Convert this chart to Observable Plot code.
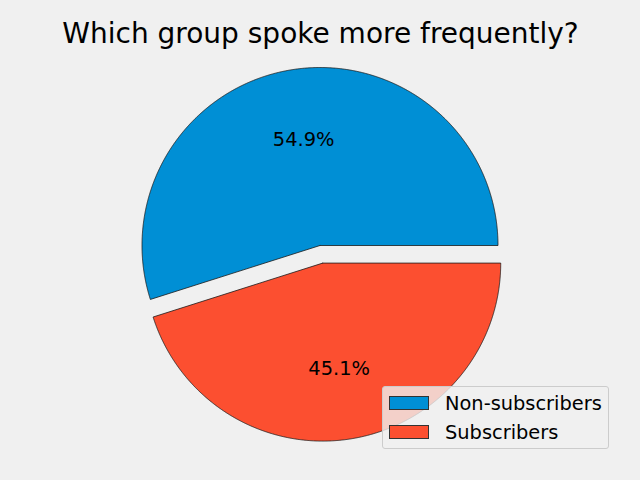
<!DOCTYPE html>
<html>
<head>
<meta charset="utf-8">
<script src="https://cdn.jsdelivr.net/npm/d3@7"></script>
<script src="https://cdn.jsdelivr.net/npm/@observablehq/plot@0.6"></script>
<style>
  html, body { margin: 0; padding: 0; background: #f0f0f0; }
  #wrap { position: relative; width: 640px; height: 480px; font-family: "DejaVu Sans", sans-serif; }
  #legend { position: absolute; left: 382px; top: 386px; width: 225px; height: 61px;
    background: rgba(240,240,240,0.8); border: 1px solid #cccccc; border-radius: 3px; }
  .item { position: absolute; left: 6px; height: 20px; display: flex; align-items: center; font-size: 19.4px; color: #000; white-space: nowrap; }
  .sw { width: 38px; height: 12px; border: 1px solid #333; margin-right: 16px; box-sizing: content-box; }
</style>
</head>
<body>
<div id="wrap"></div>
<script>
const title = "Which group spoke more frequently?";
const groups = ["Non-subscribers", "Subscribers"];
const shares = [54.9, 45.1];
const explode = [0, 0.1];
const colors = ["#008fd5", "#fc4f30"];

const total = d3.sum(shares);
let cum = 0;
const wedgePts = [];
const labels = [];
groups.forEach((g, i) => {
  const a0 = cum / total * 2 * Math.PI;
  cum += shares[i];
  const a1 = cum / total * 2 * Math.PI;
  const mid = (a0 + a1) / 2;
  const ox = explode[i] * Math.cos(mid), oy = explode[i] * Math.sin(mid);
  wedgePts.push({g, x: ox, y: oy});
  const n = Math.ceil((a1 - a0) / (Math.PI / 720));
  for (let k = 0; k <= n; k++) {
    const a = a0 + (a1 - a0) * k / n;
    wedgePts.push({g, x: ox + Math.cos(a), y: oy + Math.sin(a)});
  }
  wedgePts.push({g, x: ox, y: oy});
  labels.push({g, x: ox + 0.6 * Math.cos(mid), y: oy + 0.6 * Math.sin(mid), t: shares[i].toFixed(1) + "%"});
});

const R = 178;
const CX = 319.5;
const plot = Plot.plot({
  width: 640, height: 480,
  margin: 0,
  style: { background: "#f0f0f0", fontFamily: "DejaVu Sans, sans-serif" },
  x: { domain: [-CX / R, (640 - CX) / R], range: [0, 640], axis: null },
  y: { domain: [-235 / R, 245 / R], range: [480, 0], axis: null },
  color: { domain: groups, range: colors },
  marks: [
    Plot.line(wedgePts, { x: "x", y: "y", z: "g", fill: "g", stroke: "#1a1a1a", strokeWidth: 0.8, curve: "linear" }),
    Plot.text(labels, { x: "x", y: "y", text: "t", fontSize: 19.4, fill: "#000", lineAnchor: "middle" }),
    Plot.text([title], { frameAnchor: "top", dy: 34, text: d => d, fontSize: 28, fill: "#000", lineAnchor: "middle" })
  ]
});
const wrap = document.getElementById("wrap");
wrap.appendChild(plot);
const legend = document.createElement("div");
legend.id = "legend";
groups.forEach((g, i) => {
  const it = document.createElement("div");
  it.className = "item";
  it.style.top = (i === 0 ? 6 : 35) + "px";
  const sw = document.createElement("span");
  sw.className = "sw";
  sw.style.background = colors[i];
  it.appendChild(sw);
  it.appendChild(document.createTextNode(g));
  legend.appendChild(it);
});
wrap.appendChild(legend);
</script>
</body>
</html>
